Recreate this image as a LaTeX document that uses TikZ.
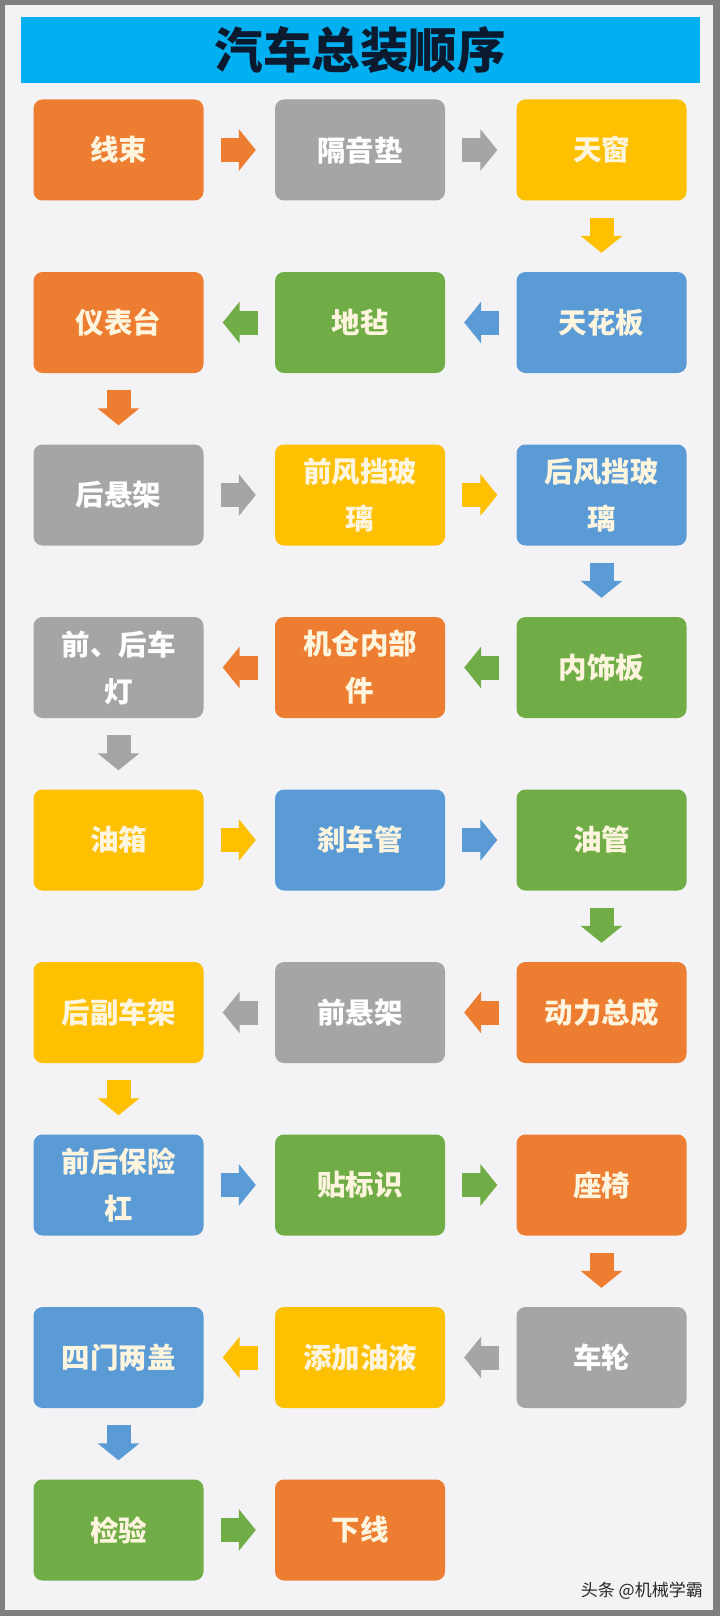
\documentclass[tikz,border=0pt]{standalone}
\usepackage{fontspec}
\newfontfamily\cjk{Noto Sans CJK SC}
\usetikzlibrary{arrows.meta}
\definecolor{cor}{HTML}{ED7D31}
\definecolor{cgr}{HTML}{A5A5A5}
\definecolor{cye}{HTML}{FFC000}
\definecolor{cbl}{HTML}{5B9BD5}
\definecolor{cgn}{HTML}{70AD47}
\definecolor{frame}{HTML}{7F7F7F}
\definecolor{bg}{HTML}{F3F2F4}
\definecolor{titlebar}{HTML}{00B0F0}
\definecolor{titletext}{HTML}{0B1A2E}
\definecolor{boxtext}{HTML}{FFF5DE}
\tikzset{
  box/.style={rectangle, rounded corners=9pt, minimum width=170pt, minimum height=101pt,
    inner sep=0pt, align=center, text=boxtext, font=\cjk\bfseries\fontsize{28.5}{47}\selectfont},
  conn/.style={line width=24pt, -{Triangle[length=17pt,width=41pt]}, shorten <=17pt, shorten >=19pt}
}
\begin{document}
\begin{tikzpicture}[x=1pt,y=-1pt]
\useasboundingbox (0,0) rectangle (720,1616);
\fill[frame] (0,0) rectangle (720,1616);
\fill[bg] (5,5) rectangle (713,1610);
\fill[titlebar] (21,17.5) rectangle (700,83);
\node[font=\cjk\bfseries\fontsize{48.5}{52}\selectfont, text=titletext] (title) at (360,50) {汽车总装顺序};
% row 1
\node[box, fill=cor] (n1) at (118.5,150) {线束};
\node[box, fill=cgr, text=white] (n2) at (360,150) {隔音垫};
\node[box, fill=cye] (n3) at (601.5,150) {天窗};
% row 2
\node[box, fill=cbl] (n4) at (601.5,322.5) {天花板};
\node[box, fill=cgn] (n5) at (360,322.5) {地毡};
\node[box, fill=cor] (n6) at (118.5,322.5) {仪表台};
% row 3
\node[box, fill=cgr, text=white] (n7) at (118.5,495) {后悬架};
\node[box, fill=cye] (n8) at (360,495) {前风挡玻\\璃};
\node[box, fill=cbl] (n9) at (601.5,495) {后风挡玻\\璃};
% row 4
\node[box, fill=cgn] (n10) at (601.5,667.5) {内饰板};
\node[box, fill=cor] (n11) at (360,667.5) {机仓内部\\件};
\node[box, fill=cgr, text=white] (n12) at (118.5,667.5) {前、后车\\灯};
% row 5
\node[box, fill=cye] (n13) at (118.5,840) {油箱};
\node[box, fill=cbl] (n14) at (360,840) {刹车管};
\node[box, fill=cgn] (n15) at (601.5,840) {油管};
% row 6
\node[box, fill=cor] (n16) at (601.5,1012.5) {动力总成};
\node[box, fill=cgr, text=white] (n17) at (360,1012.5) {前悬架};
\node[box, fill=cye] (n18) at (118.5,1012.5) {后副车架};
% row 7
\node[box, fill=cbl] (n19) at (118.5,1185) {前后保险\\杠};
\node[box, fill=cgn] (n20) at (360,1185) {贴标识};
\node[box, fill=cor] (n21) at (601.5,1185) {座椅};
% row 8
\node[box, fill=cgr, text=white] (n22) at (601.5,1357.5) {车轮};
\node[box, fill=cye] (n23) at (360,1357.5) {添加油液};
\node[box, fill=cbl] (n24) at (118.5,1357.5) {四门两盖};
% row 9
\node[box, fill=cgn] (n25) at (118.5,1530) {检验};
\node[box, fill=cor] (n26) at (360,1530) {下线};
% connectors
\draw[conn, cor] (n1) -- (n2);
\draw[conn, cgr] (n2) -- (n3);
\draw[conn, cye] (n3) -- (n4);
\draw[conn, cbl] (n4) -- (n5);
\draw[conn, cgn] (n5) -- (n6);
\draw[conn, cor] (n6) -- (n7);
\draw[conn, cgr] (n7) -- (n8);
\draw[conn, cye] (n8) -- (n9);
\draw[conn, cbl] (n9) -- (n10);
\draw[conn, cgn] (n10) -- (n11);
\draw[conn, cor] (n11) -- (n12);
\draw[conn, cgr] (n12) -- (n13);
\draw[conn, cye] (n13) -- (n14);
\draw[conn, cbl] (n14) -- (n15);
\draw[conn, cgn] (n15) -- (n16);
\draw[conn, cor] (n16) -- (n17);
\draw[conn, cgr] (n17) -- (n18);
\draw[conn, cye] (n18) -- (n19);
\draw[conn, cbl] (n19) -- (n20);
\draw[conn, cgn] (n20) -- (n21);
\draw[conn, cor] (n21) -- (n22);
\draw[conn, cgr] (n22) -- (n23);
\draw[conn, cye] (n23) -- (n24);
\draw[conn, cbl] (n24) -- (n25);
\draw[conn, cgn] (n25) -- (n26);
% watermark
\node[anchor=east, font=\cjk\fontsize{17}{20}\selectfont, text=black!85, inner sep=0pt] (wm) at (703,1591) {头条 @机械学霸};
\end{tikzpicture}
\end{document}
